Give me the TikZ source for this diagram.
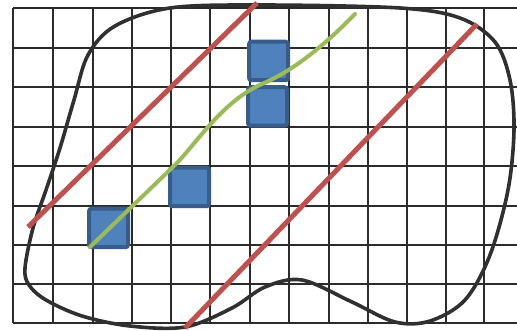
\documentclass[tikz,border=0pt]{standalone}
\usetikzlibrary{calc}
\definecolor{gridc}{HTML}{2B2B2B}
\definecolor{blobc}{HTML}{303030}
\definecolor{redl}{HTML}{C0504D}
\definecolor{greenl}{HTML}{9BBB59}
\definecolor{bluef}{HTML}{4F81BD}
\definecolor{blueb}{HTML}{385D8A}
\tikzset{
  gridline/.style={draw=gridc, line width=1.9pt},
  blobline/.style={draw=blobc, line width=3.6pt},
  redline/.style={draw=redl, line width=5pt},
  greenline/.style={draw=greenl, line width=4pt, line cap=round},
  bsq/.style={draw=blueb, fill=bluef, line width=4pt, rounded corners=2.5pt,
    minimum width=39pt, minimum height=38.5pt, inner sep=0pt}
}
\begin{document}
\begin{tikzpicture}[x=1pt,y=-1pt]
\useasboundingbox (0,0) rectangle (517,331);
\fill[white] (0,0) rectangle (517,331);
% grid
\foreach \gx in {13,53,93,132,171,210,250,289,329,368,407,446,484}
  \draw[gridline] (\gx,8) -- (\gx,323);
\foreach \gy in {8,48,87,127,166,206,245,284,323}
  \draw[gridline] (13,\gy) -- (517,\gy);
% blob
\draw[blobline] plot[smooth cycle, tension=0.55] coordinates {
  (25,268) (33,228) (46,190) (60,148) (74,100) (88,55) (115,26) (170,8)
  (260,5) (400,8) (460,18) (495,42) (510,80) (514,130) (508,190)
  (490,255) (465,300) (430,321) (395,322) (352,302) (302,280) (265,287)
  (232,308) (185,327) (130,326) (82,316) (46,300) (29,285)};
% red lines
\coordinate (r1a) at (28,227);
\coordinate (r1b) at (257,3);
\coordinate (r2a) at (185,328);
\coordinate (r2b) at (477,24);
\draw[redline] (r1a) -- (r1b);
\draw[redline] (r2a) -- (r2b);
% blue squares
\node[bsq] (s1) at (108.5,228) {};
\node[bsq] (s2) at (189.5,187) {};
\node[bsq] (s3) at (268.5,61) {};
\node[bsq] (s4) at (267.5,106.5) {};
% green curve
\coordinate (g0) at (90,247);
\coordinate (g1) at (178,162);
\coordinate (g2) at (262,84);
\coordinate (g3) at (355,14);
\draw[greenline] (g0) -- (g1) .. controls (200,138) and (225,100) .. (g2)
  .. controls (290,72) and (320,50) .. (g3);
\end{tikzpicture}
\end{document}
